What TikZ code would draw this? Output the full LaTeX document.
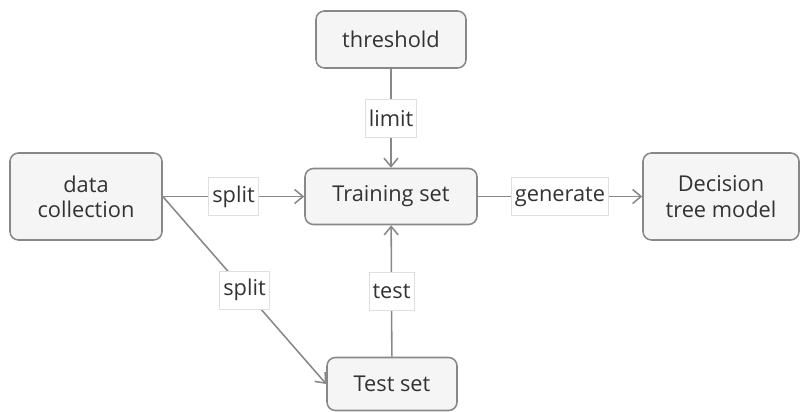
\documentclass[tikz,border=0pt]{standalone}
\usepackage{fontspec}
\setmainfont{Open Sans}
\usetikzlibrary{arrows.meta}

\definecolor{boxfill}{HTML}{F5F5F5}
\definecolor{boxline}{HTML}{888888}
\definecolor{textgray}{HTML}{333333}

\begin{document}
\begin{tikzpicture}[x=0.025cm, y=-0.025cm,
	box/.style={draw=boxline, fill=boxfill, line width=1.1pt, rounded corners=6pt, align=center, text=textgray, font=\fontsize{15.5}{18}\selectfont, inner sep=0pt},
	tag/.style={draw=gray!25, fill=white, line width=0.5pt, text=textgray, font=\fontsize{15.5}{18}\selectfont, inner sep=2.5pt, minimum height=27pt},
	link/.style={draw=boxline, line width=1.1pt, -{Straight Barb[length=6pt, width=10pt, line width=1.1pt]}}]
	\useasboundingbox (0,0) rectangle (800,412);
	\node [box, minimum width=150*0.025cm, minimum height=57*0.025cm] (threshold) at (391,39.5) {threshold};
	\node [box, minimum width=152*0.025cm, minimum height=87*0.025cm] (collect) at (86,196.5) {data\\collection};
	\node [box, minimum width=172*0.025cm, minimum height=56*0.025cm] (train) at (391,196.5) {Training set};
	\node [box, minimum width=156*0.025cm, minimum height=87*0.025cm] (model) at (721,196.5) {Decision\\tree model};
	\node [box, minimum width=130*0.025cm, minimum height=53*0.025cm] (test) at (392,384) {Test set};
	% connectors
	\draw [link] (threshold) -- node [tag] {limit} (train);
	\draw [link] (collect) -- node [tag] {split} (train);
	\draw [link] (train) -- node [tag] {generate} (model);
	\draw [link] (collect.east) -- node [tag] {split} (test.west);
	\draw [link] (test) -- node [tag] {test} (train);
\end{tikzpicture}
\end{document}
